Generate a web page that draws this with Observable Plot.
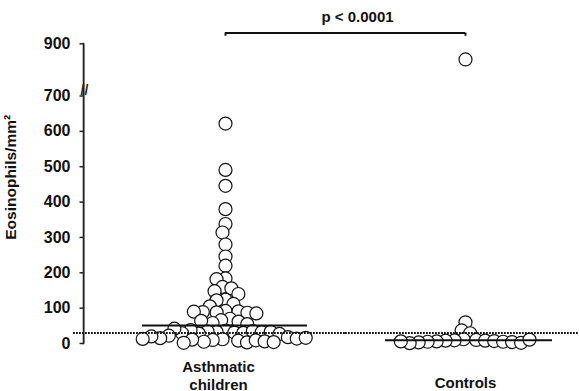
<!DOCTYPE html>
<html>
<head>
<meta charset="utf-8">
<script src="https://cdn.jsdelivr.net/npm/d3@7"></script>
<script src="https://cdn.jsdelivr.net/npm/@observablehq/plot@0.6"></script>
<style>
  html, body { margin: 0; padding: 0; background: #fff; }
  #chart { position: relative; width: 579px; height: 391px; }
  #chart svg.overlay { position: absolute; left: 0; top: 0; }
</style>
</head>
<body>
<div id="chart"></div>
<script>
// ---- Data ----
const groups = ["Asthmatic children", "Controls"];
const groupLabels = ["Asthmatic\nchildren", "Controls"];

const asthmatic = [
  622, 491, 446, 380, 338, 314, 280, 246, 220, 184, 182, 160, 156, 148, 140, 124, 122, 112, 105,
  92, 88, 91, 87, 89, 85, 90,
  70, 66, 62, 58, 64, 55,
  36, 33, 31, 34, 30, 28, 35, 38, 32, 29, 33, 42, 27,
  22, 18, 15, 12, 10, 8, 14, 5, 3, 20, 16, 9, 11, 6, 2, 13, 4
];
const controls = [
  840, 60, 37, 29,
  12, 10, 9, 8, 8, 7, 6, 5, 5, 4, 3, 2, 1, 11, 6
];
const medians = [51, 9];
const threshold = 30;

const yTicks = [0, 100, 200, 300, 400, 500, 600, 700, 900];
const yTitle = "Eosinophils/mm²";
const pLabel = "p < 0.0001";
const bracketValue = 941;
const bracketTickValue = 929;
const pLabelValue = 1001;
const breakValue = 720;
const yTitleValue = 470;

// ---- Tables built from the arrays ----
const points = [
  ...asthmatic.map(v => ({group: groups[0], value: v})),
  ...controls.map(v => ({group: groups[1], value: v}))
];
const medianRows = groups.map((g, i) => ({group: g, value: medians[i]}));
const thresholdRows = groups.map(g => ({group: g, value: threshold}));
const bracketRows = groups.map(g => ({group: g, value: bracketValue}));
const labelRows = groups.map((g, i) => ({group: g, label: groupLabels[i]}));
const font = "'Liberation Sans', Arial, Helvetica, sans-serif";
const ink = "#111";
const first = d => d.group === groups[0];
const second = d => d.group === groups[1];
const yScale = {type: "linear", domain: [0, 700, 900], range: [343, 95.5, 43.3], axis: null};

// ---- Main chart: the two dot columns, medians, cut-off line, bracket ----
const chart = Plot.plot({
  width: 579,
  height: 391,
  marginTop: 43,
  marginBottom: 48,
  marginLeft: 83,
  marginRight: 0,
  style: {fontFamily: font, background: "#fff", color: ink},
  y: yScale,
  fx: {domain: groups, paddingInner: 0.1, paddingOuter: 1 / 12, align: 0.85, round: false, axis: null},
  marks: [
    Plot.dot(points, Plot.dodgeX({anchor: "middle", padding: -4,
      fx: "group", y: "value", r: 6.5, fill: "white", stroke: ink, strokeWidth: 1.2})),
    Plot.ruleY(medianRows.filter(first),
      {fx: "group", y: "value", insetLeft: 25, insetRight: 26, stroke: ink, strokeWidth: 2}),
    Plot.ruleY(medianRows.filter(second),
      {fx: "group", y: "value", insetLeft: 28, insetRight: 21, stroke: ink, strokeWidth: 2}),
    Plot.ruleY(thresholdRows.filter(first),
      {fx: "group", y: "value", insetLeft: -44, insetRight: -12, stroke: ink, strokeWidth: 2, strokeDasharray: "1.8,1.2"}),
    Plot.ruleY(thresholdRows.filter(second),
      {fx: "group", y: "value", insetLeft: -12, insetRight: -6, stroke: ink, strokeWidth: 2, strokeDasharray: "1.8,1.2"}),
    // significance bracket
    Plot.ruleY(bracketRows.filter(first),
      {fx: "group", y: "value", insetLeft: 108, insetRight: -12, stroke: ink, strokeWidth: 2}),
    Plot.ruleY(bracketRows.filter(second),
      {fx: "group", y: "value", insetLeft: -12, insetRight: 108, stroke: ink, strokeWidth: 2}),
    Plot.ruleX(bracketRows, {fx: "group", x: null, y1: bracketValue, y2: bracketTickValue, stroke: ink, strokeWidth: 2}),
    Plot.text([pLabel], {facetAnchor: "left", y: pLabelValue, dx: 132, fontSize: 15, fontWeight: "bold", fill: ink}),
    // category labels under each column
    Plot.text(labelRows.filter(first), {fx: "group", text: "label", frameAnchor: "bottom", lineAnchor: "bottom",
      dy: 46, dx: -7, lineHeight: 1.2, fontSize: 15, fontWeight: "bold", fill: ink}),
    Plot.text(labelRows.filter(second), {fx: "group", text: "label", frameAnchor: "bottom", lineAnchor: "bottom",
      dy: 44, lineHeight: 1.2, fontSize: 15, fontWeight: "bold", fill: ink})
  ]
});

// ---- Y axis layer (same y scale), laid over the left edge ----
const axisLayer = Plot.plot({
  width: 84,
  height: 391,
  marginTop: 43,
  marginBottom: 48,
  marginLeft: 83,
  marginRight: 0,
  style: {fontFamily: font, background: "transparent", color: ink, overflow: "visible"},
  x: {type: "linear", domain: [0, 1], range: [79, 83.2], axis: null},
  y: yScale,
  marks: [
    // axis line and ticks drawn as links (paths)
    Plot.link([yTicks[0]], {x1: 1, x2: 1, y1: yTicks[0], y2: yTicks[yTicks.length - 1], stroke: "#222", strokeWidth: 1.5}),
    Plot.link(yTicks, {x1: 0, x2: 1, y1: d => d, y2: d => d, stroke: "#222", strokeWidth: 1.5}),
    // frame edge on the same spot
    Plot.frame({anchor: "left", stroke: "#222", strokeWidth: 1.5}),
    Plot.axisY(yTicks, {anchor: "left", tickSize: 0, tickPadding: 13,
      fontSize: 16, fontWeight: "bold", label: null, fill: ink}),
    Plot.text(["//"], {frameAnchor: "left", textAnchor: "middle", y: breakValue, dx: 1,
      fontSize: 14, fontWeight: "bold", fill: "#222"}),
    Plot.text([yTitle], {frameAnchor: "left", textAnchor: "middle", y: yTitleValue, dx: -72, rotate: -90,
      fontSize: 15.5, fontWeight: "bold", fill: ink})
  ]
});
axisLayer.classList.add("overlay");

const holder = document.getElementById("chart");
holder.appendChild(chart);
holder.appendChild(axisLayer);
</script>
</body>
</html>
